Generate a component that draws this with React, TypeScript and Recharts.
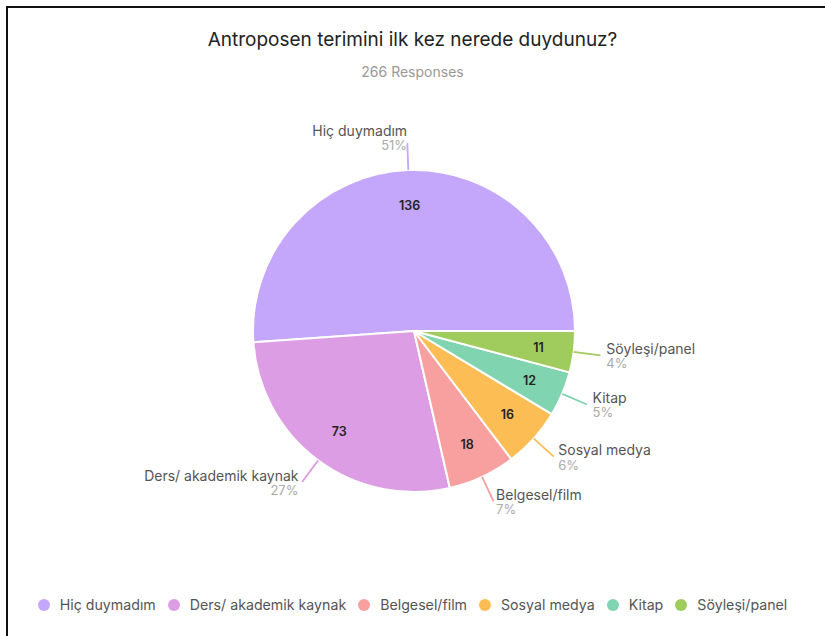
import { PieChart, Pie, Cell } from 'recharts';

const categories = ['Hiç duymadım', 'Ders/ akademik kaynak', 'Belgesel/film', 'Sosyal medya', 'Kitap', 'Söyleşi/panel'];
const counts = [136, 73, 18, 16, 12, 11];
const percentLabels = ['51%', '27%', '7%', '6%', '5%', '4%'];
const colors = ['#c4a6fb', '#dc9de4', '#f8a0a0', '#fdbd55', '#80d4b0', '#a0cc5e'];

const TITLE = 'Antroposen terimini ilk kez nerede duydunuz?';
const SUBTITLE = '266 Responses';

const FONT = 'Inter, "Open Sans", sans-serif';
const RAD = Math.PI / 180;

const chartData = categories.map((name, i) => ({
  name,
  value: counts[i],
  pct: percentLabels[i],
}));

// label drawn by hand: count inside, line + name + percent outside
const renderLabel = (props: any) => {
  const { cx, cy, midAngle, outerRadius, index } = props;
  const cos = Math.cos(-midAngle * RAD);
  const sin = Math.sin(-midAngle * RAD);
  const sx = cx + outerRadius * cos;
  const sy = cy + outerRadius * sin;
  const ex = cx + (outerRadius + 27) * cos;
  const ey = cy + (outerRadius + 27) * sin;
  const ix = cx + outerRadius * 0.78 * cos;
  const iy = cy + outerRadius * 0.78 * sin;
  const anchor = cos >= 0 ? 'start' : 'end';
  const tx = ex + 6 * cos;
  const base = ey + (sin < 0 ? 6 * sin : 0);
  return (
    <g>
      <text x={ix} y={iy} textAnchor="middle" dominantBaseline="central" fill="#222" fontSize={12.5} fontWeight={600} fontFamily={FONT}>
        {counts[index]}
      </text>
      <line x1={sx} y1={sy} x2={ex} y2={ey} stroke={colors[index]} strokeWidth={1.8} />
      <text x={tx} y={base - 7} textAnchor={anchor} dominantBaseline="central" fill="#555" fontSize={14} fontFamily={FONT}>
        {categories[index]}
      </text>
      <text x={tx} y={base + 8} textAnchor={anchor} dominantBaseline="central" fill="#aaa" fontSize={13} fontFamily={FONT}>
        {percentLabels[index]}
      </text>
    </g>
  );
};

export default function App() {
  return (
    <div style={{ position: 'absolute', left: 0, top: 0, width: 825, height: 636, background: '#fff', fontFamily: FONT, overflow: 'hidden' }}>
      <div style={{ position: 'absolute', left: 6, top: 6, right: 0, height: 2, background: '#111' }} />
      <div style={{ position: 'absolute', left: 6, top: 6, bottom: 0, width: 2, background: '#111' }} />
      <div style={{ position: 'absolute', left: 0, width: 825, top: 28, textAlign: 'center', fontSize: 19, color: '#222' }}>
        {TITLE}
      </div>
      <div style={{ position: 'absolute', left: 0, width: 825, top: 63, textAlign: 'center', fontSize: 14, color: '#999' }}>
        {SUBTITLE}
      </div>
      <div style={{ position: 'absolute', left: 0, top: 0 }}>
        <PieChart width={825} height={636} margin={{ top: 0, right: 0, bottom: 0, left: 0 }}>
          <Pie
            data={chartData}
            dataKey="value"
            nameKey="name"
            cx={414}
            cy={331}
            outerRadius={161}
            startAngle={0}
            endAngle={360}
            stroke="#fff"
            strokeWidth={2}
            label={renderLabel}
            labelLine={false}
            isAnimationActive={false}
          >
            {chartData.map((d, i) => (
              <Cell key={d.name} fill={colors[i]} />
            ))}
          </Pie>
        </PieChart>
      </div>
      <div style={{ position: 'absolute', left: 0, width: 825, top: 596, display: 'flex', justifyContent: 'center', alignItems: 'center', fontSize: 14.2, color: '#555' }}>
        {categories.map((name, i) => (
          <div key={name} style={{ display: 'flex', alignItems: 'center', marginRight: i < categories.length - 1 ? 12 : 0 }}>
            <span style={{ width: 12, height: 12, borderRadius: 6, background: colors[i], marginRight: 10, display: 'inline-block' }} />
            <span>{name}</span>
          </div>
        ))}
      </div>
    </div>
  );
}
